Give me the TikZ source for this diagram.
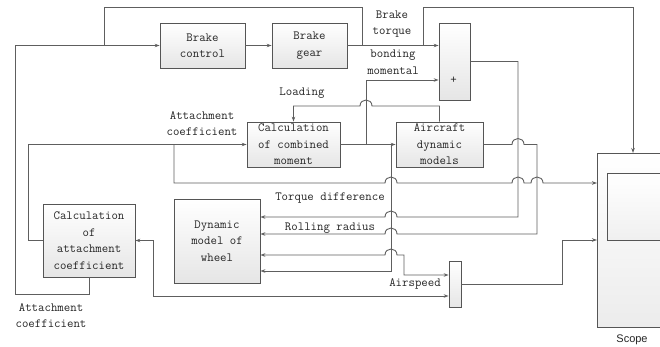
\documentclass[tikz,border=0pt]{standalone}
\usepackage{fontspec}
\setmainfont{Liberation Serif}
\newfontfamily\sansf{Liberation Sans}
\usetikzlibrary{arrows.meta,calc}
\definecolor{ln}{HTML}{5E5E5E}
\definecolor{bd}{HTML}{555555}
\begin{document}
\begin{tikzpicture}[x=1pt,y=-1pt,
  box/.style={draw=bd, line width=0.8pt, top color=white, bottom color=gray!20,
    font=\ttfamily\fontsize{12.5}{16.5}\selectfont, align=center, inner sep=0pt, text=black!85},
  lab/.style={font=\ttfamily\fontsize{12.5}{16.5}\selectfont, align=center, inner sep=0pt, text=black!85},
  wire/.style={draw=ln, line width=0.9pt},
  arr/.style={wire, -{Stealth[length=5pt,width=3.5pt]}},
  barr/.style={wire, {Stealth[length=5pt,width=3.5pt]}-{Stealth[length=5pt,width=3.5pt]}}]
\clip (0,0) rectangle (660,347);
\fill[white] (0,0) rectangle (660,347);

% blocks
\node[box, minimum width=85pt, minimum height=45pt] (bc) at (202.5,45.5) {Brake\\control};
\node[box, minimum width=75pt, minimum height=45pt] (bg) at (309.5,45.5) {Brake\\gear};
\node[box, minimum width=31pt, minimum height=77pt] (plus) at (454.5,61.5) {};
\node[lab] (plussign) at (453.5,80) {+};
\node[box, minimum width=93pt, minimum height=45pt] (ccm) at (293.5,144.5) {Calculation\\of combined\\moment};
\node[box, minimum width=87pt, minimum height=45pt] (adm) at (439.5,144.5) {Aircraft\\dynamic\\models};
\node[box, minimum width=92pt, minimum height=73pt] (cac) at (89,240.5) {Calculation\\of\\attachment\\coefficient};
\node[box, minimum width=86pt, minimum height=84pt] (wheel) at (217,241) {Dynamic\\model of\\wheel};
\node[box, minimum width=12pt, minimum height=46pt] (mux) at (455,284) {};
\node[box, bottom color=gray!15, minimum width=90pt, minimum height=174pt, anchor=north west] (scope) at (597,153) {};
\node[box, bottom color=gray!12, minimum width=70pt, minimum height=67pt, anchor=north west] (scopein) at (607,173) {};

% labels
\node[lab] (lbt) at (392,24) {Brake\\torque};
\node[lab] (lbm) at (393,62) {bonding\\momental};
\node[lab] (lld) at (302,93) {Loading};
\node[lab] (lac1) at (202,123.5) {Attachment\\coefficient};
\node[lab] (ltd) at (330,198) {Torque difference};
\node[lab] (lrr) at (330,228) {Rolling radius};
\node[lab] (las) at (415,284) {Airspeed};
\node[lab] (lac2) at (51,315.5) {Attachment\\coefficient};
\node[font=\sansf\fontsize{11}{13}\selectfont, text=black!85, inner sep=0pt] (lsc) at (632,340) {Scope};

% junction coordinates
\coordinate (j1) at (104,45.5);
\coordinate (t1) at (362,45.5);
\coordinate (t2) at (423,45.5);
\coordinate (j174) at (174,144.5);
\coordinate (j366) at (366,144.5);
\coordinate (j391) at (391,144.5);
\coordinate (j153) at (153,240.5);

% connectors
\draw[arr] (bc.east) -- (bg.west);
\draw[arr] (bg.east) -- (plus.west |- bg.east);
\draw[wire] (t1) -- (362,7) -| (j1);
\draw[arr] (t2) -- (423,7) -| (scope.north west -| 633,0);
\draw[arr] (cac.south) -- (89,294) -| (15,45.5) -- (bc.west);
\draw[arr] (cac.west) -- (28,240.5) |- (ccm.west);
\draw[arr] (j174) -- (174,183) -- (385,183) .. controls +(0,-8) and +(0,-8) .. (397,183)
  -- (512,183) .. controls +(0,-8) and +(0,-8) .. (524,183)
  -- (531,183) .. controls +(0,-8) and +(0,-8) .. (543,183) -- (scope.west |- 0,183);
\draw[arr] (ccm.east) -- (adm.west);
\draw[arr] (j366) |- (plus.west |- 0,80);
\draw[arr] (j391) -- (391,271) -- (wheel.east |- 0,271);
\draw[arr] (adm.north) -- (439.5,106) -- (372,106) .. controls +(0,-8) and +(0,-8) .. (360,106)
  -- (293.5,106) -- (ccm.north);
\draw[arr] (plus.east) -- (518,61.5) -- (518,217) -- (397,217) .. controls +(0,-8) and +(0,-8) .. (385,217)
  -- (wheel.east |- 0,217);
\draw[arr] (adm.east) -- (512,144.5) .. controls +(0,-8) and +(0,-8) .. (524,144.5)
  -- (537,144.5) -- (537,234) -- (397,234) .. controls +(0,-8) and +(0,-8) .. (385,234)
  -- (wheel.east |- 0,234);
\draw[barr] (wheel.east |- 0,255) -- (385,255) .. controls +(0,-8) and +(0,-8) .. (397,255)
  -- (404,255) -- (404,275) -- (mux.west |- 0,275);
\draw[barr] (cac.east) -- (j153) -- (153,296) -- (mux.west |- 0,296);
\draw[arr] (mux.east) -- (562,284) -- (562,240) -- (scope.west |- 0,240);
\end{tikzpicture}
\end{document}
